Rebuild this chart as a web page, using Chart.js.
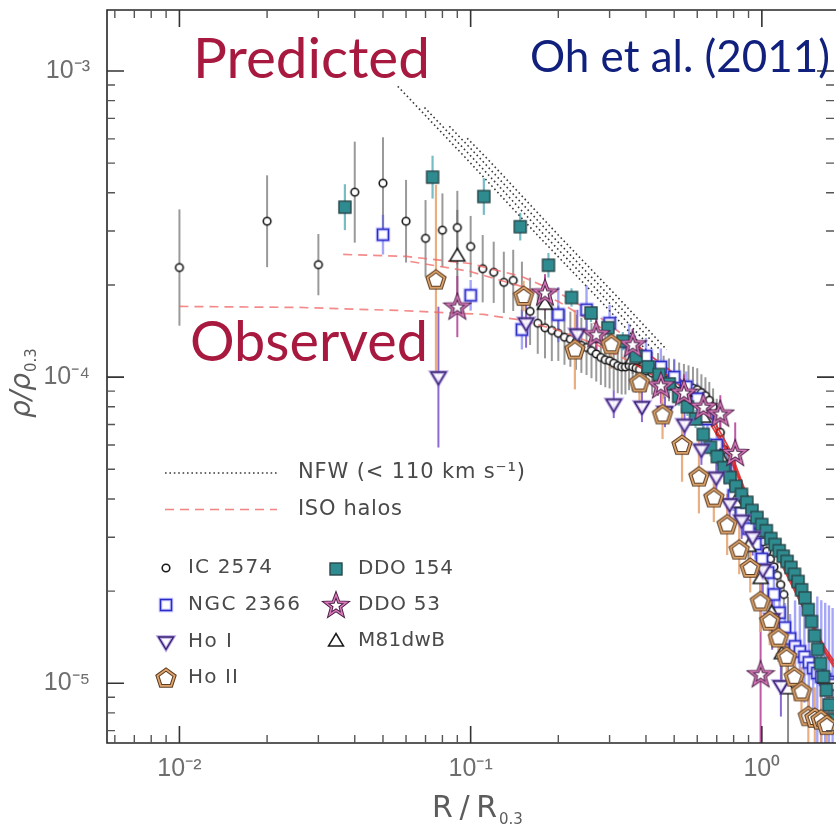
<!DOCTYPE html>
<html>
<head>
<meta charset="utf-8">
<script src="https://cdn.jsdelivr.net/npm/chart.js@4.4.1/dist/chart.umd.min.js"></script>
<style>
html,body{margin:0;padding:0;background:#fff;overflow:hidden;}
canvas{display:block;}
</style>
</head>
<body>
<canvas id="chart" width="840" height="830"></canvas>
<script>
// ---------------- axis ticks ----------------
const xMajorTicks = [0.01, 0.1, 1];
const xTickLabels = ['10⁻²', '10⁻¹', '10⁰'];
const xMinorTicks = [0.006,0.007,0.008,0.009,0.02,0.03,0.04,0.05,0.06,0.07,0.08,0.09,0.2,0.3,0.4,0.5,0.6,0.7,0.8,0.9];
const yMajorTicks = [1e-5, 1e-4, 1e-3];
const yTickLabels = ['10⁻⁵', '10⁻⁴', '10⁻³'];
const yMinorTicks = [7e-6,8e-6,9e-6,2e-5,3e-5,4e-5,5e-5,6e-5,7e-5,8e-5,9e-5,2e-4,3e-4,4e-4,5e-4,6e-4,7e-4,8e-4,9e-4];
const xMin = 0.00564, xMax = 1.769;
const yMin = 6.38e-6, yMax = 1.582e-3;

// ---------------- data: IC 2574 ----------------
const ic2574R = [0.01,0.02,0.03,0.04,0.05,0.06,0.07,0.08,0.09,0.10,0.11,0.12,0.13,0.14,0.15,0.16,0.17,0.18,0.19,0.20,
  0.21,0.22,0.23,0.24,0.25,0.26,0.27,0.28,0.29,0.30,0.31,0.32,0.33,0.34,0.35,0.36,0.37,0.38,
  0.40,0.42,0.44,0.46,0.48,0.50,0.52,0.54,0.56,0.58,0.60,0.62,0.64,0.66,0.68,0.70,0.72,0.74,0.76,0.78,0.80,
  0.83,0.86,0.89,0.92,0.95,0.98,1.01,1.04,1.07,1.10,1.13,1.16,1.19];
const ic2574Rho = [2.28e-4,3.23e-4,2.33e-4,4.02e-4,4.30e-4,3.23e-4,2.84e-4,3.02e-4,3.08e-4,2.67e-4,
  2.26e-4,2.20e-4,2.04e-4,2.07e-4,1.85e-4,1.64e-4,1.50e-4,1.45e-4,1.42e-4,1.39e-4,
  1.35e-4,1.33e-4,1.30e-4,1.27e-4,1.25e-4,1.22e-4,1.19e-4,1.16e-4,1.14e-4,1.13e-4,
  1.11e-4,1.09e-4,1.08e-4,1.08e-4,1.09e-4,1.08e-4,1.07e-4,1.06e-4,
  1.05e-4,1.03e-4,1.02e-4,1.00e-4,9.8e-5,9.7e-5,9.5e-5,9.4e-5,9.3e-5,9.2e-5,9.1e-5,
  8.9e-5,8.7e-5,8.4e-5,8.0e-5,7.4e-5,6.6e-5,5.8e-5,5.2e-5,4.8e-5,4.5e-5,
  4.2e-5,3.95e-5,3.7e-5,3.5e-5,3.3e-5,3.1e-5,2.9e-5,2.7e-5,2.55e-5,2.4e-5,2.25e-5,2.1e-5,1.95e-5];
const ic2574Err = [0.19,0.15,0.10,0.165,0.15,0.135,0.125,0.12,0.12,0.10,0.11,0.10,0.10,0.10,
  0.11,0.11,0.10,0.10,0.10,0.09,0.09,0.09,0.09,0.09,0.09,0.09,0.09,0.09,0.09,0.09,0.09,0.09,0.09,0.09,0.08,0.08,0.08,0.08,
  0.07,0.07,0.07,0.07,0.07,0.07,0.07,0.07,0.07,0.07,0.07,0.06,0.06,0.06,0.06,0.06,0.06,0.06,0.06,0.06,0.06,
  0.04,0.04,0.04,0.04,0.04,0.04,0.04,0.04,0.04,0.04,0.04,0.04,0.04];

// ---------------- NGC 2366 ----------------
const ngc2366R = [0.05,0.10,0.15,0.20,0.25,0.30,0.35,0.40,0.45,0.50,0.55,0.60,0.65,0.70,0.75,0.80,0.85,0.90,0.95,
  1.00,1.05,1.10,1.15,1.20,1.25,1.30,1.35,1.40,1.45,1.50,1.55,1.60,1.65,1.70,1.75];
const ngc2366Rho = [2.92e-4,1.85e-4,1.43e-4,1.60e-4,1.66e-4,1.50e-4,1.30e-4,1.17e-4,1.08e-4,1.00e-4,
  9.3e-5,8.5e-5,7.3e-5,6.0e-5,5.0e-5,4.1e-5,3.6e-5,3.2e-5,2.85e-5,
  2.55e-5,2.3e-5,1.95e-5,1.7e-5,1.52e-5,1.4e-5,1.32e-5,1.27e-5,1.22e-5,1.17e-5,1.12e-5,
  1.08e-5,1.05e-5,1.03e-5,1.01e-5,0.99e-5];
const ngc2366Err = [0.065,0.05,0.065,0.09,0.08,0.06,0.06,0.06,0.06,0.06,
  0.05,0.05,0.05,0.05,0.05,0.05,0.05,0.05,0.05,0.08,0.08,0.08,0.08,0.08,0.08,
  0.15,0.15,0.15,0.15,0.15,0.25,0.25,0.25,0.25,0.25];

// ---------------- Ho I ----------------
const hoIR = [0.0775,0.155,0.2325,0.31,0.3875,0.465,0.5425,0.62,0.6975,0.775,0.8525,0.93,1.0075,1.085,1.1625];
const hoIRho = [1.0e-4,1.5e-4,1.38e-4,8.15e-5,8.0e-5,7.7e-5,7.0e-5,5.8e-5,4.7e-5,3.85e-5,3.4e-5,3.0e-5,2.35e-5,1.62e-5,9.8e-6];
const hoIErr = [0.23,0.08,0.08,0.045,0.05,0.05,0.05,0.05,0.05,0.05,0.06,0.06,0.08,0.10,0.10];

// ---------------- Ho II ----------------
const hoIIR = [0.076,0.152,0.228,0.304,0.380,0.456,0.532,0.608,0.684,0.760,0.836,0.912,0.988,1.064,1.140,1.216,1.292,1.368,1.444,1.520,1.596,1.672];
const hoIIRho = [2.08e-4,1.84e-4,1.23e-4,1.28e-4,9.6e-5,7.55e-5,6.0e-5,4.73e-5,4.04e-5,3.3e-5,2.73e-5,2.38e-5,1.85e-5,1.6e-5,1.41e-5,1.22e-5,1.05e-5,9.4e-6,7.8e-6,7.7e-6,7.6e-6,7.3e-6];
const hoIIErr = [0.31,0.05,0.13,0.08,0.10,0.08,0.12,0.12,0.08,0.10,0.08,0.08,0.10,0.08,0.08,0.08,0.08,0.08,0.10,0.10,0.10,0.10];

// ---------------- DDO 154 ----------------
const ddo154R = [0.037,0.074,0.111,0.148,0.185,0.222,0.259,0.296,0.333,0.370,0.407,0.444,0.481,0.518,0.555,0.592,0.629,0.666,0.703,0.740,
  0.777,0.814,0.851,0.888,0.925,0.962,0.999,1.036,1.073,1.110,1.147,1.184,1.221,1.258,1.295,1.332,1.369,1.406,1.443,1.480,
  1.517,1.554,1.591,1.628,1.665,1.702,1.739];
const ddo154Rho = [3.59e-4,4.5e-4,3.89e-4,3.1e-4,2.32e-4,1.82e-4,1.62e-4,1.45e-4,1.31e-4,1.17e-4,1.08e-4,1.02e-4,9.5e-5,8.65e-5,8.0e-5,7.3e-5,6.5e-5,5.9e-5,5.5e-5,5.06e-5,
  4.7e-5,4.4e-5,4.14e-5,3.9e-5,3.67e-5,3.48e-5,3.3e-5,3.15e-5,2.97e-5,2.84e-5,2.71e-5,2.6e-5,2.5e-5,2.39e-5,2.27e-5,2.15e-5,2.02e-5,1.9e-5,1.74e-5,1.59e-5,
  1.43e-5,1.29e-5,1.16e-5,1.05e-5,9.5e-6,8.5e-6,7.6e-6];
const ddo154Err = [0.075,0.07,0.06,0.045,0.04,0.03,0.03,0.03,0.03,0.03,0.03,0.03,0.03,0.03,0.03,0.03,0.03,0.03,0.03,0.03,
  0.03,0.03,0.03,0.03,0.03,0.03,0.03,0.03,0.03,0.03,0.03,0.03,0.03,0.03,0.03,0.03,0.03,0.03,0.03,0.03,
  0.03,0.03,0.03,0.03,0.03,0.03,0.03];

// ---------------- DDO 53 ----------------
const ddo53R = [0.09,0.18,0.27,0.36,0.45,0.54,0.63,0.72,0.81,0.99];
const ddo53Rho = [1.70e-4,1.89e-4,1.38e-4,1.28e-4,9.4e-5,8.9e-5,8.0e-5,7.6e-5,5.65e-5,1.07e-5];
const ddo53Err = [0.10,0.06,0.06,0.05,0.06,0.06,0.06,0.06,0.10,0.30];

// ---------------- M81dwB ----------------
const m81dwbR = [0.09,0.18,0.27,0.36,0.45,0.54,0.63,0.72,0.81,0.90,0.99,1.08,1.17,1.23];
const m81dwbRho = [2.49e-4,1.73e-4,1.35e-4,1.15e-4,1.0e-4,9.0e-5,7.4e-5,5.5e-5,3.9e-5,2.8e-5,2.2e-5,1.7e-5,1.25e-5,9.6e-6];
const m81dwbErr = [0.15,0.05,0.05,0.05,0.05,0.05,0.05,0.05,0.05,0.06,0.06,0.08,0.10,0.30];

// ---------------- NFW model curves ----------------
const nfw1R = [0.0562,0.0973,0.1685,0.270,0.3995];
const nfw1Rho = [8.91e-4,5.14e-4,2.93e-4,1.835e-4,1.23e-4];
const nfw2R = [0.0694,0.1028,0.178,0.2853,0.422];
const nfw2Rho = [7.6e-4,5.14e-4,2.93e-4,1.835e-4,1.23e-4];
const nfw3R = [0.0845,0.1086,0.188,0.301,0.446];
const nfw3Rho = [6.6e-4,5.14e-4,2.93e-4,1.835e-4,1.23e-4];
const nfw4R = [0.0973,0.1147,0.1987,0.318,0.471];
const nfw4Rho = [6.03e-4,5.14e-4,2.93e-4,1.835e-4,1.23e-4];

// ---------------- ISO model curves ----------------
const iso1R = [0.0365,0.0602,0.0995,0.1496,0.2000,0.2694,0.3685,0.5043,0.6381,0.7762,0.8731,1.0214,1.1668,1.3654,1.6355,1.7685];
const iso1Rho = [2.516e-4,2.478e-4,2.350e-4,2.132e-4,1.890e-4,1.602e-4,1.279e-4,1.020e-4,8.14e-5,5.80e-5,4.30e-5,3.18e-5,2.54e-5,1.88e-5,1.32e-5,1.18e-5];
const iso2R = [0.01,0.02563,0.05612,0.1110,0.1438,0.1968,0.2694,0.3685,0.5043,0.6381,0.7762,0.8731,1.0214,1.1668,1.3654,1.6355,1.7685];
const iso2Rho = [1.702e-4,1.689e-4,1.651e-4,1.602e-4,1.543e-4,1.431e-4,1.279e-4,1.100e-4,9.12e-5,7.55e-5,5.47e-5,4.14e-5,3.06e-5,2.445e-5,1.81e-5,1.271e-5,1.127e-5];
const iso3R = [0.0621,0.0995,0.1496,0.2000,0.2694,0.3685,0.5043,0.6381,0.7762,0.8731,1.0214,1.1668,1.3654,1.6355,1.7685];
const iso3Rho = [2.386e-4,2.213e-4,1.978e-4,1.767e-4,1.486e-4,1.213e-4,9.68e-5,7.84e-5,5.59e-5,4.23e-5,3.13e-5,2.50e-5,1.85e-5,1.29e-5,1.153e-5];

// ---------------- marker images ----------------
function mk(size, fn) { const c = document.createElement('canvas'); c.width = size; c.height = size; const g = c.getContext('2d'); fn(g, size / 2); return c; }
function polyPath(g, pts) { g.beginPath(); pts.forEach((p, i) => i ? g.lineTo(p[0], p[1]) : g.moveTo(p[0], p[1])); g.closePath(); }
const mCircle = mk(12, (g, c) => { g.beginPath(); g.arc(c, c, 3.8, 0, Math.PI * 2); g.fillStyle = '#fff'; g.fill(); g.lineWidth = 1.6; g.strokeStyle = '#1a1a1a'; g.stroke(); });
const mSquareBlue = mk(20, (g, c) => { g.fillStyle = '#fff'; g.fillRect(c - 5.5, c - 5.5, 11, 11); g.lineWidth = 3.6; g.strokeStyle = 'rgba(90,90,255,0.35)'; g.strokeRect(c - 5.5, c - 5.5, 11, 11); g.lineWidth = 1.5; g.strokeStyle = '#2a2ac4'; g.strokeRect(c - 5.5, c - 5.5, 11, 11); });
const mTriDown = mk(22, (g, c) => { polyPath(g, [[c - 7.5, c - 5], [c + 7.5, c - 5], [c, c + 7.5]]); g.fillStyle = 'rgba(255,255,255,0.9)'; g.fill(); g.lineWidth = 3.4; g.strokeStyle = 'rgba(140,100,215,0.6)'; g.stroke(); g.lineWidth = 1.4; g.strokeStyle = '#35246e'; g.stroke(); });
const mPent = mk(26, (g, c) => { const R = 9; const pts = []; for (let i = 0; i < 5; i++) { const a = -Math.PI / 2 + i * 2 * Math.PI / 5; pts.push([c + R * Math.cos(a), c + 0.5 + R * Math.sin(a)]); } polyPath(g, pts); g.fillStyle = '#fff'; g.fill(); g.lineWidth = 3.8; g.strokeStyle = '#5b3c22'; g.stroke(); g.lineWidth = 1.7; g.strokeStyle = '#e2a66c'; g.stroke(); });
const mTeal = mk(18, (g, c) => { g.fillStyle = '#2e8b8f'; g.fillRect(c - 6, c - 6, 12, 12); g.lineWidth = 1.4; g.strokeStyle = '#29484a'; g.strokeRect(c - 6, c - 6, 12, 12); });
const mStar = mk(30, (g, c) => { const pts = []; for (let i = 0; i < 10; i++) { const a = -Math.PI / 2 + i * Math.PI / 5; const r = i % 2 === 0 ? 11 : 4.6; pts.push([c + r * Math.cos(a), c + 0.8 + r * Math.sin(a)]); } polyPath(g, pts); g.fillStyle = '#fff'; g.fill(); g.lineWidth = 3.4; g.strokeStyle = '#4a1c45'; g.stroke(); g.lineWidth = 1.5; g.strokeStyle = '#d97bbb'; g.stroke(); });
const mTriUp = mk(22, (g, c) => { polyPath(g, [[c, c - 7.5], [c + 7.5, c + 5], [c - 7.5, c + 5]]); g.fillStyle = '#fff'; g.fill(); g.lineWidth = 1.5; g.strokeStyle = '#1a1a1a'; g.stroke(); });

// ---------------- datasets ----------------
const pts = (R, rho) => R.map((r, i) => ({ x: r, y: rho[i] }));
const markerDS = (label, R, rho, err, img, errColor, errWidth) => ({ label, data: pts(R, rho), errDex: err, errColor, errWidth, pointStyle: img, pointRadius: 5, showLine: false });
const nfwDS = (label, R, rho) => ({ label, data: pts(R, rho), showLine: true, pointRadius: 0, borderColor: '#3a3a3a', borderWidth: 1.6, borderDash: [1.6, 2.8], borderCapStyle: 'butt', tension: 0, fill: false });
const isoDS = (label, R, rho) => ({ label, data: pts(R, rho), showLine: true, pointRadius: 0, borderWidth: 1.7, tension: 0, fill: false,
  borderColor: 'rgba(238,95,95,0.8)',
  segment: {
    borderDash: c => (c.p0.parsed.x < 0.33 ? [9, 6] : []),
    borderColor: c => (c.p0.parsed.x < 0.33 ? 'rgba(240,100,100,0.75)' : 'rgba(222,30,30,0.85)')
  } });

const datasets = [
  markerDS('Ho II', hoIIR, hoIIRho, hoIIErr, mPent, 'rgba(232,165,115,0.9)', 2.2),
  markerDS('DDO 53', ddo53R, ddo53Rho, ddo53Err, mStar, 'rgba(180,60,150,0.85)', 2),
  markerDS('Ho I', hoIR, hoIRho, hoIErr, mTriDown, 'rgba(120,80,205,0.85)', 2),
  markerDS('DDO 154', ddo154R, ddo154Rho, ddo154Err, mTeal, 'rgba(95,178,188,0.85)', 2.2),
  markerDS('M81dwB', m81dwbR, m81dwbRho, m81dwbErr, mTriUp, 'rgba(110,110,110,0.8)', 2),
  markerDS('NGC 2366', ngc2366R, ngc2366Rho, ngc2366Err, mSquareBlue, 'rgba(80,80,240,0.5)', 2.4),
  isoDS('ISO 1', iso1R, iso1Rho),
  isoDS('ISO 2', iso2R, iso2Rho),
  isoDS('ISO 3', iso3R, iso3Rho),
  markerDS('IC 2574', ic2574R, ic2574Rho, ic2574Err, mCircle, 'rgba(120,120,120,0.75)', 2),
  nfwDS('NFW 1', nfw1R, nfw1Rho),
  nfwDS('NFW 2', nfw2R, nfw2Rho),
  nfwDS('NFW 3', nfw3R, nfw3Rho),
  nfwDS('NFW 4', nfw4R, nfw4Rho)
];

// ---------------- plugins ----------------
const errPlugin = {
  id: 'errbars',
  beforeDatasetsDraw(chart) {
    const { ctx, chartArea: a, scales: { x, y } } = chart;
    ctx.save();
    ctx.beginPath(); ctx.rect(a.left, a.top, a.right - a.left, a.bottom - a.top); ctx.clip();
    for (let di = chart.data.datasets.length - 1; di >= 0; di--) {
      const ds = chart.data.datasets[di];
      if (!ds.errDex) continue;
      ctx.strokeStyle = ds.errColor; ctx.lineWidth = ds.errWidth || 2;
      ds.data.forEach((p, i) => {
        const e = ds.errDex[i]; if (!e) return;
        const px = x.getPixelForValue(p.x);
        const hi = y.getPixelForValue(p.y * Math.pow(10, e));
        const lo = y.getPixelForValue(p.y / Math.pow(10, e));
        ctx.beginPath(); ctx.moveTo(px, hi); ctx.lineTo(px, lo); ctx.stroke();
      });
    }
    ctx.restore();
  }
};

function spacedText(ctx, text, x, y, size, family, targetW, style) {
  ctx.font = (style ? style + ' ' : '') + size + 'px ' + family;
  ctx.letterSpacing = '0px';
  const w = ctx.measureText(text).width;
  const n = [...text].length;
  const ls = n > 1 ? (targetW - w) / (n - 1) : 0;
  ctx.letterSpacing = ls.toFixed(2) + 'px';
  ctx.fillText(text, x, y);
  ctx.letterSpacing = '0px';
}
function plainText(ctx, text, x, y, size, family, style) {
  ctx.font = (style ? style + ' ' : '') + size + 'px ' + family;
  ctx.letterSpacing = '0px';
  ctx.fillText(text, x, y);
  return ctx.measureText(text).width;
}
function fitText(ctx, text, x, baseline, targetW, family, color) {
  ctx.font = '100px ' + family;
  const w = ctx.measureText(text).width;
  const size = 100 * targetW / w;
  ctx.font = size.toFixed(2) + 'px ' + family;
  ctx.fillStyle = color;
  ctx.textAlign = 'left'; ctx.textBaseline = 'alphabetic';
  ctx.fillText(text, x, baseline);
}

const framePlugin = {
  id: 'frame',
  afterDraw(chart) {
    const { ctx, chartArea: a, scales: { x, y } } = chart;
    ctx.save();
    // frame
    ctx.strokeStyle = '#262626'; ctx.lineWidth = 1.6;
    ctx.beginPath();
    ctx.moveTo(a.right + 2, a.top); ctx.lineTo(a.left, a.top); ctx.lineTo(a.left, a.bottom); ctx.lineTo(a.right + 2, a.bottom);
    ctx.stroke();
    // ticks
    const xt = (vals, len, lw, col) => { ctx.lineWidth = lw; ctx.strokeStyle = col; vals.forEach(v => { const p = x.getPixelForValue(v); ctx.beginPath(); ctx.moveTo(p, a.bottom); ctx.lineTo(p, a.bottom - len); ctx.moveTo(p, a.top); ctx.lineTo(p, a.top + len); ctx.stroke(); }); };
    const yt = (vals, len, lw, col) => { ctx.lineWidth = lw; ctx.strokeStyle = col; vals.forEach(v => { const p = y.getPixelForValue(v); ctx.beginPath(); ctx.moveTo(a.left, p); ctx.lineTo(a.left + len, p); ctx.moveTo(a.right, p); ctx.lineTo(a.right - len, p); ctx.stroke(); }); };
    xt(xMajorTicks, 17, 1.6, '#333'); xt(xMinorTicks, 8, 1.4, '#555');
    yt(yMajorTicks, 17, 1.6, '#333'); yt(yMinorTicks, 8, 1.4, '#555');

    // axis titles
    ctx.fillStyle = '#5c5c5c'; ctx.textAlign = 'left'; ctx.textBaseline = 'alphabetic';
    spacedText(ctx, 'R/R', 432, 817, 30, '"DejaVu Sans"', 65);
    plainText(ctx, '0.3', 499, 824, 15, '"DejaVu Sans"');
    ctx.save();
    ctx.translate(30, 418); ctx.rotate(-Math.PI / 2);
    const wr = plainText(ctx, 'ρ/ρ', 0, 0, 28, '"DejaVu Sans"', 'italic');
    plainText(ctx, '0.3', wr + 1, 6, 15, '"DejaVu Sans"');
    ctx.restore();

    // model legend
    ctx.save();
    ctx.lineWidth = 1.6; ctx.strokeStyle = '#3a3a3a'; ctx.setLineDash([1.6, 2.8]);
    ctx.beginPath(); ctx.moveTo(165, 473); ctx.lineTo(277, 473); ctx.stroke();
    ctx.strokeStyle = 'rgba(240,110,110,0.85)'; ctx.setLineDash([9, 6]);
    ctx.beginPath(); ctx.moveTo(165, 509.5); ctx.lineTo(277, 509.5); ctx.stroke();
    ctx.restore();
    ctx.fillStyle = '#4a4a4a'; ctx.textBaseline = 'middle'; ctx.textAlign = 'left';
    spacedText(ctx, 'NFW (< 110 km s⁻¹)', 298, 473, 21, '"DejaVu Sans"', 227);
    spacedText(ctx, 'ISO halos', 298, 510, 21, '"DejaVu Sans"', 104);

    // marker legend
    const items = [
      [mCircle, 166, 568, 'IC 2574', 188, 84],
      [mSquareBlue, 166, 605, 'NGC 2366', 188, 112],
      [mTriDown, 166, 642, 'Ho I', 188, 44],
      [mPent, 166, 678, 'Ho II', 188, 50],
      [mTeal, 336, 569, 'DDO 154', 358, 95],
      [mStar, 336, 605, 'DDO 53', 358, 82],
      [mTriUp, 336, 641, 'M81dwB', 358, 87]
    ];
    items.forEach(([img, mx, my, txt, tx, tw]) => {
      ctx.drawImage(img, mx - img.width / 2, my - img.height / 2);
      ctx.fillStyle = '#4a4a4a'; ctx.textBaseline = 'middle';
      spacedText(ctx, txt, tx, my, 20, '"DejaVu Sans"', tw);
    });

    // annotations
    fitText(ctx, 'Predicted', 193, 77.5, 237, 'Lato', '#a8193f');
    fitText(ctx, 'Observed', 190, 361, 238, 'Lato', '#a8193f');
    fitText(ctx, 'Oh et al. (2011)', 530, 72, 300, 'Lato', '#10207c');
    ctx.restore();
  }
};

// ---------------- chart ----------------
new Chart(document.getElementById('chart').getContext('2d'), {
  type: 'scatter',
  data: { datasets },
  options: {
    responsive: false, animation: false, devicePixelRatio: 1,
    layout: { padding: { top: 10, right: 0, left: 0, bottom: 0 } },
    plugins: { legend: { display: false }, tooltip: { enabled: false } },
    events: [],
    scales: {
      x: {
        type: 'logarithmic', min: xMin, max: xMax,
        grid: { display: false, drawTicks: false }, border: { display: false },
        afterBuildTicks: s => { s.ticks = xMajorTicks.map(v => ({ value: v })); },
        afterFit: s => { s.height = 87; s.paddingLeft = 0; s.paddingRight = 0; },
        ticks: { autoSkip: false, maxRotation: 0, minRotation: 0, padding: 11, color: '#6e6e6e',
          font: { family: '"Liberation Sans"', size: 25 },
          callback: (v, i) => xTickLabels[i] }
      },
      y: {
        type: 'logarithmic', min: yMin, max: yMax,
        grid: { display: false, drawTicks: false }, border: { display: false },
        afterBuildTicks: s => { s.ticks = yMajorTicks.map(v => ({ value: v })); },
        afterFit: s => { s.width = 107; s.paddingTop = 0; s.paddingBottom = 0; },
        ticks: { autoSkip: false, padding: 17, color: '#6e6e6e',
          font: { family: '"Liberation Sans"', size: 25 },
          callback: (v, i) => yTickLabels[i] }
      }
    }
  },
  plugins: [errPlugin, framePlugin]
});
</script>
</body>
</html>
